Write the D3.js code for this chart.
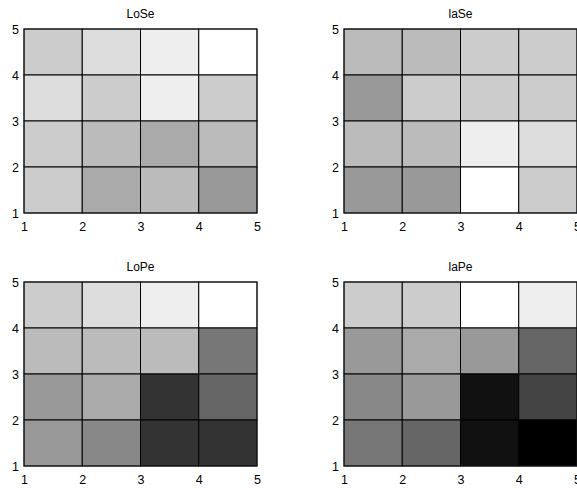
<!DOCTYPE html>
<html>
<head>
<meta charset="utf-8">
<script src="https://cdn.jsdelivr.net/npm/d3@7"></script>
<style>
  html, body { margin: 0; padding: 0; background: #fff; }
  svg { display: block; }
  text { font-family: "Liberation Sans", Arial, Helvetica, sans-serif; }
</style>
</head>
<body>
<svg id="chart" width="577" height="489"></svg>
<script>
// Panel titles
const panelTitles = ["LoSe", "laSe", "LoPe", "laPe"];

// Grid edges on both axes
const edges = [1, 2, 3, 4, 5];
const tickLabels = ["1", "2", "3", "4", "5"];

// Gray level per cell (0 = black, 15 = white); rows from top (y 4-5) down to bottom (y 1-2)
const loSe = [
  [12, 13, 14, 15],
  [13, 12, 14, 12],
  [12, 11, 10, 11],
  [12, 10, 11,  9]
];
const laSe = [
  [11, 11, 12, 12],
  [ 9, 12, 12, 12],
  [11, 11, 14, 13],
  [ 9,  9, 15, 12]
];
const loPe = [
  [12, 13, 14, 15],
  [11, 11, 11,  7],
  [ 9, 10,  3,  6],
  [ 9,  8,  3,  3]
];
const laPe = [
  [12, 12, 15, 14],
  [ 9, 10,  9,  6],
  [ 8,  9,  1,  4],
  [ 7,  6,  1,  0]
];

const panelValues = [loSe, laSe, loPe, laPe];

const svg = d3.select("#chart");

// Plot-area boxes for the 2x2 layout
const cols = [[24, 257], [344, 577]];
const rowsY = [[29, 213], [282, 466]];

const gray = d3.scaleLinear().domain([0, 15]).range(["#000000", "#ffffff"]).interpolate(d3.interpolateRgb);

panelValues.forEach((mat, p) => {
  const [x0, x1] = cols[p % 2];
  const [y0, y1] = rowsY[Math.floor(p / 2)];

  const x = d3.scaleLinear().domain([1, 5]).range([x0, x1]);
  const y = d3.scaleLinear().domain([1, 5]).range([y1, y0]);

  const g = svg.append("g");

  const cells = [];
  mat.forEach((row, i) => {
    row.forEach((v, j) => {
      cells.push({ xa: edges[j], xb: edges[j + 1], ya: edges[3 - i], yb: edges[4 - i], v });
    });
  });

  g.selectAll("rect.cell")
    .data(cells)
    .join("rect")
    .attr("class", "cell")
    .attr("x", d => x(d.xa))
    .attr("y", d => y(d.yb))
    .attr("width", d => x(d.xb) - x(d.xa))
    .attr("height", d => y(d.ya) - y(d.yb))
    .attr("fill", d => gray(d.v))
    .attr("stroke", "#000")
    .attr("stroke-width", 1);

  // Axis box
  g.append("rect")
    .attr("x", x0)
    .attr("y", y0)
    .attr("width", x1 - x0)
    .attr("height", y1 - y0)
    .attr("fill", "none")
    .attr("stroke", "#1a1a1a")
    .attr("stroke-width", 1);

  const xAxis = d3.axisBottom(x).tickValues(edges).tickFormat((d, i) => tickLabels[i]).tickSize(0).tickPadding(9);
  const yAxis = d3.axisLeft(y).tickValues(edges).tickFormat((d, i) => tickLabels[i]).tickSize(0).tickPadding(5);

  const gx = g.append("g").attr("transform", `translate(0,${y1})`).call(xAxis);
  const gy = g.append("g").attr("transform", `translate(${x0},0)`).call(yAxis);
  [gx, gy].forEach(a => {
    a.select(".domain").remove();
    a.selectAll("text")
      .attr("font-size", 12.5)
      .attr("fill", "#000")
      .style("font-family", '"Liberation Sans", Arial, sans-serif');
  });

  g.append("text")
    .attr("x", (x0 + x1) / 2)
    .attr("y", y0 - 11)
    .attr("text-anchor", "middle")
    .attr("font-size", 12)
    .attr("fill", "#000")
    .text(panelTitles[p]);
});
</script>
</body>
</html>
